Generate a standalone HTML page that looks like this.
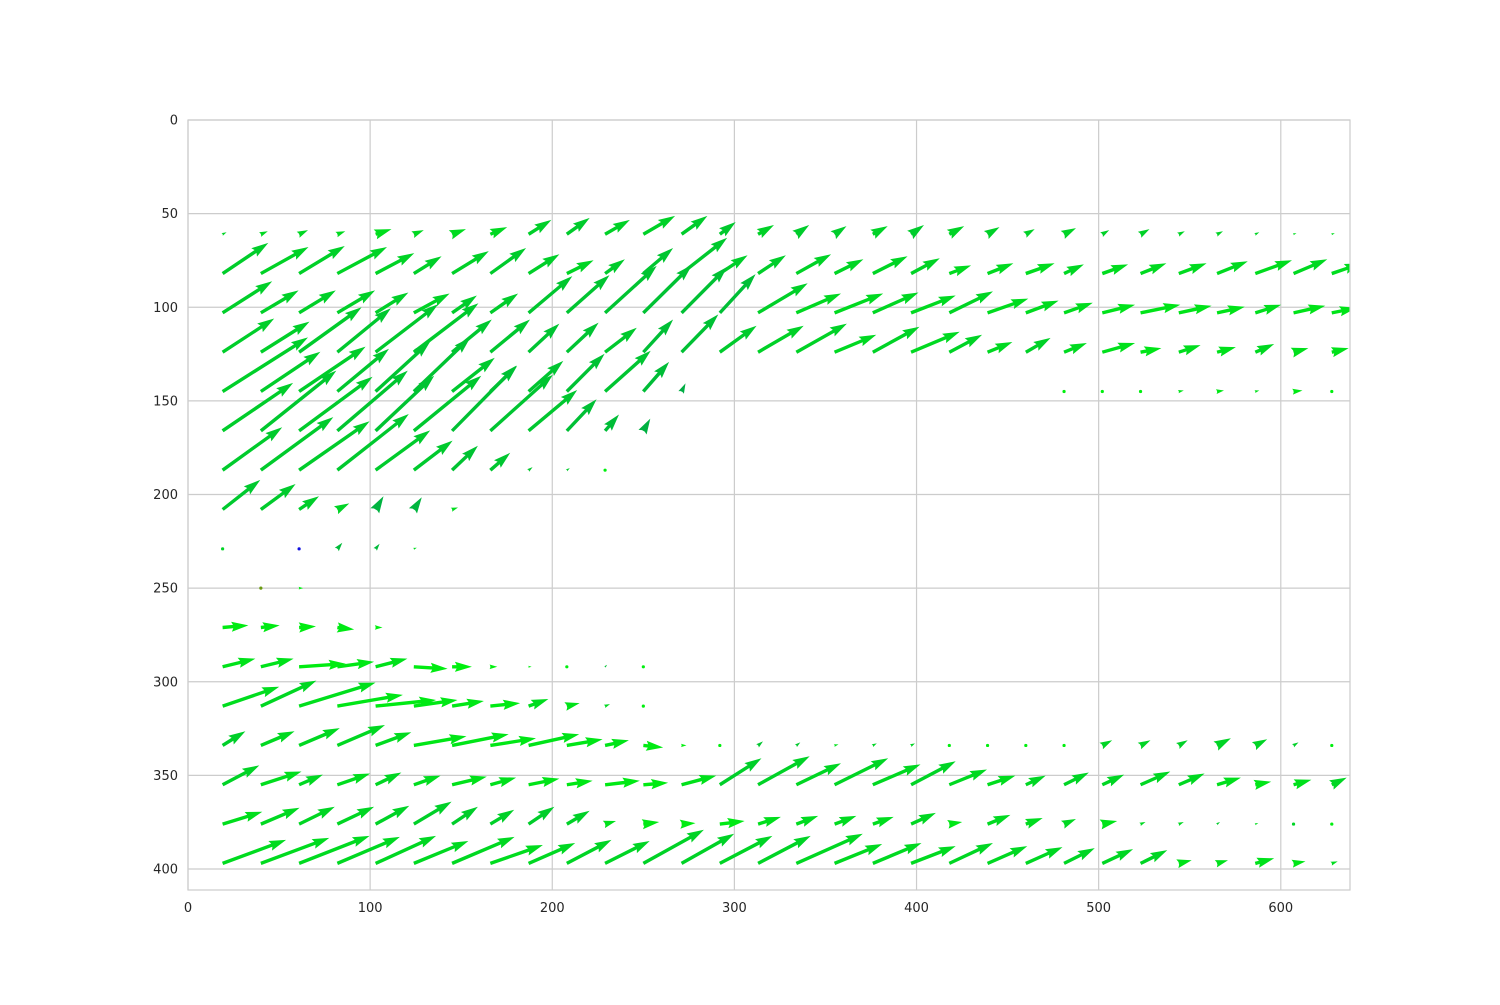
<!DOCTYPE html>
<html><head><meta charset="utf-8">
<style>
html,body{margin:0;padding:0;background:#fff;}
svg text{font-family:"DejaVu Sans","Liberation Sans",sans-serif;font-size:13px;fill:#262626;}
</style></head>
<body>
<svg id="chart" width="1500" height="1000" xmlns="http://www.w3.org/2000/svg">
<defs><clipPath id="plotclip"><rect x="188" y="120" width="1162" height="770"/></clipPath></defs>
<g id="grid"></g>
<g id="arrows" clip-path="url(#plotclip)"></g>
<rect x="188" y="120" width="1162" height="770" fill="none" stroke="#cccccc" stroke-width="1.2"/>
<g id="xticks"></g>
<g id="yticks"></g>
</svg>
<script>
const xTickValues = [0,100,200,300,400,500,600];
const yTickValues = [0,50,100,150,200,250,300,350,400];
const colX = [19,40,61,82,103,124,145,166,187,208,229,250,271,292,313,334,355,376,397,418,439,460,481,502,523,544,565,586,607,628];
const rowY = [61,82,103,124,145,166,187,208,229,250,271,292,313,334,355,376,397];
const U = [
[4,7,9,8,16,10,14,17,23,23,25,32,26,16,16,13,12,15,13,15,12,9,12,7,9,6,6,4,3,3],
[46,48,46,50,39,28,37,36,31,27,20,30,46,28,28,35,29,35,29,22,26,29,20,26,26,28,31,37,34,30],
[50,38,37,38,33,36,25,28,44,43,52,49,46,36,50,45,49,46,45,44,41,33,29,33,40,33,28,26,32,25],
[52,49,63,54,63,65,40,40,31,32,32,30,37,37,46,51,42,47,49,33,25,25,23,33,21,22,19,19,15,17],
[86,60,67,52,55,57,43,27,35,38,46,26,4,0,0,0,0,0,0,0,0,0,0.5,0.5,0.5,5,7,4,9,0.5],
[71,76,74,71,59,68,65,63,49,30,14,7,0,0,0,0,0,0,0,0,0,0,0,0,0,0,0,0,0,0],
[60,73,71,72,55,39,26,20,4,3,0.5,0,0,0,0,0,0,0,0,0,0,0,0,0,0,0,0,0,0,0],
[38,35,20,12,8,8,6,0,0,0,0,0,0,0,0,0,0,0,0,0,0,0,0,0,0,0,0,0,0,0],
[2,0,0.6,5,4,3,0,0,0,0,0,0,0,0,0,0,0,0,0,0,0,0,0,0,0,0,0,0,0,0],
[0,0.6,4,0,0,0,0,0,0,0,0,0,0,0,0,0,0,0,0,0,0,0,0,0,0,0,0,0,0,0],
[26,19,17,17,7,0,0,0,0,0,0,0,0,0,0,0,0,0,0,0,0,0,0,0,0,0,0,0,0,0],
[33,33,47,37,32,34,20,7,3,0.5,2,0.5,0,0,0,0,0,0,0,0,0,0,0,0,0,0,0,0,0,0],
[57,56,77,66,61,44,32,30,20,13,5,0.5,0,0,0,0,0,0,0,0,0,0,0,0,0,0,0,0,0,0],
[23,34,41,48,36,53,57,46,51,36,24,20,5,0.5,5,4,4,4,4,0.5,0.5,0.5,0.5,10,10,9,14,12,5,0.5],
[37,41,24,33,26,27,35,26,31,26,35,25,35,42,52,45,54,48,45,38,28,20,25,22,30,26,24,16,18,15],
[40,39,36,37,34,38,26,24,26,23,11,16,14,25,23,22,22,21,25,13,23,17,12,15,5,5,3,3,2,0.5],
[64,69,71,63,61,55,63,53,47,45,45,61,53,53,53,67,48,49,45,44,40,37,31,31,27,13,11,19,12,6]
];
const V = [
[-2,-3,-4,-3,-5,-4,-5,-7,-14,-16,-14,-18,-18,-12,-9,-9,-8,-8,-9,-8,-7,-5,-6,-4,-5,-3,-3,-2,-1,-1],
[-30,-26,-27,-26,-20,-17,-22,-25,-19,-13,-14,-25,-35,-18,-18,-19,-14,-17,-15,-8,-10,-10,-9,-9,-10,-10,-12,-13,-14,-10],
[-31,-22,-22,-22,-20,-19,-17,-19,-36,-37,-46,-47,-45,-38,-29,-19,-19,-20,-17,-21,-14,-12,-10,-8,-8,-7,-6,-8,-7,-5],
[-33,-30,-44,-43,-47,-48,-32,-32,-28,-29,-24,-32,-37,-26,-26,-28,-17,-25,-20,-17,-10,-14,-9,-9,-4,-7,-5,-8,-4,-4],
[-53,-39,-44,-42,-49,-53,-33,-25,-30,-37,-40,-29,-8,0,0,0,0,0,0,0,0,0,0,0,0,-1,-1,-1,-1,0],
[-47,-59,-53,-59,-54,-54,-64,-55,-40,-31,-16,-12,0,0,0,0,0,0,0,0,0,0,0,0,0,0,0,0,0,0],
[-42,-52,-48,-55,-39,-29,-24,-17,-3,-2,0,0,0,0,0,0,0,0,0,0,0,0,0,0,0,0,0,0,0,0],
[-29,-25,-13,-6,-13,-12,-2,0,0,0,0,0,0,0,0,0,0,0,0,0,0,0,0,0,0,0,0,0,0,0],
[-1,0,0,-6,-5,-1,0,0,0,0,0,0,0,0,0,0,0,0,0,0,0,0,0,0,0,0,0,0,0,0],
[0,0,0,0,0,0,0,0,0,0,0,0,0,0,0,0,0,0,0,0,0,0,0,0,0,0,0,0,0,0],
[-2,-2,-1,2,0,0,0,0,0,0,0,0,0,0,0,0,0,0,0,0,0,0,0,0,0,0,0,0,0,0],
[-8,-8,-3,-5,-8,2,0,0,0,0,-2,0,0,0,0,0,0,0,0,0,0,0,0,0,0,0,0,0,0,0],
[-19,-25,-23,-11,-6,-6,-5,-3,-7,-3,-2,0,0,0,0,0,0,0,0,0,0,0,0,0,0,0,0,0,0,0],
[-14,-14,-17,-20,-13,-9,-11,-7,-11,-6,-5,2,0,0,-4,-3,-1,-2,-2,0,0,0,0,-5,-5,-5,-7,-6,-3,0],
[-19,-13,-10,-11,-12,-9,-8,-7,-6,-4,-4,-2,-9,-26,-28,-21,-26,-20,-23,-15,-9,-9,-12,-10,-13,-11,-7,-3,-5,-7],
[-12,-16,-17,-17,-18,-22,-17,-14,-17,-13,-3,-2,-1,-3,-7,-8,-8,-7,-11,-2,-9,-6,-5,-3,-2,-2,-2,-1,-1,0],
[-23,-25,-27,-26,-27,-22,-26,-18,-20,-23,-22,-33,-29,-27,-27,-29,-19,-20,-17,-20,-17,-16,-15,-14,-13,-3,-3,-5,-2,-2]
];
const specialColors = {"8,2":"#1010e0","9,1":"#6a9a10"};

const X0=188, X1=1350, Y0=120, Y1=890, XMAX=638, YMAX=411.2;
const ARROW_SCALE = 0.545;
function xScale(v){return X0 + v/XMAX*(X1-X0);}
function yScale(v){return Y0 + v/YMAX*(Y1-Y0);}
const NS="http://www.w3.org/2000/svg";
const svg=document.getElementById('chart');
const gGrid=document.getElementById('grid');
const gX=document.getElementById('xticks');
const gY=document.getElementById('yticks');
const gA=document.getElementById('arrows');

xTickValues.forEach(function(t){
  const l=document.createElementNS(NS,'line');
  
  
  const x=xScale(t);
  l.setAttribute('x1',x);l.setAttribute('x2',x);l.setAttribute('y1',Y0);l.setAttribute('y2',Y1);
  l.setAttribute('stroke','#cccccc');l.setAttribute('stroke-width','1.2');
  gGrid.appendChild(l);
  const tx=document.createElementNS(NS,'text');
  
  
  tx.setAttribute('x',x);tx.setAttribute('y',912);tx.setAttribute('text-anchor','middle');
  tx.textContent=t;
  gX.appendChild(tx);
});
yTickValues.forEach(function(t){
  const l=document.createElementNS(NS,'line');
  
  
  const y=yScale(t);
  l.setAttribute('x1',X0);l.setAttribute('x2',X1);l.setAttribute('y1',y);l.setAttribute('y2',y);
  l.setAttribute('stroke','#cccccc');l.setAttribute('stroke-width','1.2');
  gGrid.appendChild(l);
  const tx=document.createElementNS(NS,'text');
  
  
  tx.setAttribute('x',178);tx.setAttribute('y',y+4.5);tx.setAttribute('text-anchor','end');
  tx.textContent=t;
  gY.appendChild(tx);
});

function colorFor(dx,dy){
  let a=Math.atan2(-dy,dx)*180/Math.PI;
  a=Math.max(0,Math.min(75,Math.abs(a)));
  const g=Math.round(240-a*1.05), b=Math.round(14+a*0.85);
  return 'rgb(0,'+g+','+b+')';
}
const W=3.4, HL=5*W, HAL=4.5*W, HW=3*W;
for(let r=0;r<rowY.length;r++){
  for(let c=0;c<colX.length;c++){
    const u=U[r][c], v=V[r][c];
    if(u===0 && v===0) continue;
    const x0=xScale(colX[c]), y0=yScale(rowY[r]);
    const x1=xScale(colX[c]+u*ARROW_SCALE), y1=yScale(rowY[r]+v*ARROW_SCALE);
    const dx=x1-x0, dy=y1-y0, L=Math.hypot(dx,dy);
    const col=specialColors[r+','+c]||colorFor(u,v);
    let el;
    if(L<W*0.8){
      el=document.createElementNS(NS,'circle');
      el.setAttribute('cx',x0);el.setAttribute('cy',y0);el.setAttribute('r',1.6);
    } else {
      let s=1; if(L<HAL) s=L/HAL;
      const w=W*s/2, hl=HL*s, hal=HAL*s, hw=HW*s/2;
      const pts=[[0,-w],[L-hal,-w],[L-hl,-hw],[L,0],[L-hl,hw],[L-hal,w],[0,w]];
      const ca=dx/L, sa=dy/L;
      const p=pts.map(function(q){return (x0+q[0]*ca-q[1]*sa).toFixed(1)+','+(y0+q[0]*sa+q[1]*ca).toFixed(1);}).join(' ');
      el=document.createElementNS(NS,'polygon');
      el.setAttribute('points',p);
    }
    
    
    el.setAttribute('fill',col);
    gA.appendChild(el);
  }
}
</script>
</body></html>
